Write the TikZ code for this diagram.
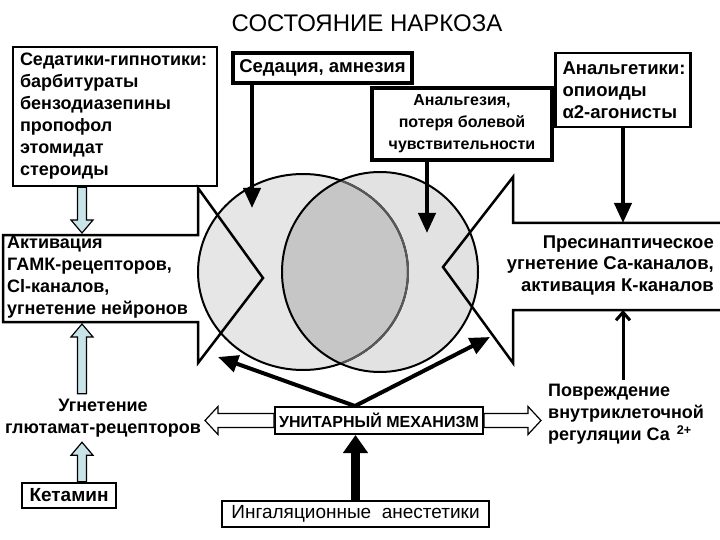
\documentclass[tikz,border=0pt]{standalone}
\usepackage{fontspec}
\setmainfont{Liberation Sans}
\usetikzlibrary{arrows.meta, calc}

\definecolor{paleblue}{RGB}{200,228,232}
\definecolor{leftfill}{RGB}{230,230,230}
\definecolor{rightfill}{RGB}{226,226,226}
\definecolor{overlap}{RGB}{198,198,198}

% hollow block arrow: style, from, to, shaft half width, head half width
\newcommand\fatarrow[5]{%
  \draw [#1] let \p1 = (#2), \p2 = (#3),
    \n1 = {atan2(\y2-\y1,\x2-\x1)}, \n2 = {veclen(\x2-\x1,\y2-\y1)} in
    [shift = {(\p1)}, rotate = \n1]
    (0,-#4) -- ({\n2-13},-#4) -- ({\n2-13},-#5) -- (\n2,0)
    -- ({\n2-13},#5) -- ({\n2-13},#4) -- (0,#4) -- cycle;}

\begin{document}
\begin{tikzpicture}[x = 1pt, y = -1pt,
    bodyfont/.style = {font = \bfseries\fontsize{18}{22}\selectfont},
    txt/.style = {bodyfont, inner sep = 2pt},
    thinbox/.style = {draw, bodyfont, line width = 2.5pt, inner xsep = 7pt},
    thickbox/.style = {draw, bodyfont, line width = 4pt},
    blackarrow/.style = {line width = 4pt, -{Triangle[length = 20pt, width = 17pt]}},
    bluearrow/.style = {fill = paleblue, line width = 1.2pt},
    whitearrow/.style = {fill = white, line width = 1.2pt}]
  \useasboundingbox (0,0) rectangle (720,540);

  % the two circles
  \fill [leftfill] (303,272) ellipse [x radius = 105, y radius = 98];
  \fill [rightfill] (380,272) ellipse [x radius = 98, y radius = 100];
  \begin{scope}
    \clip (303,272) ellipse [x radius = 105, y radius = 98];
    \fill [overlap] (380,272) ellipse [x radius = 98, y radius = 100];
  \end{scope}
  \draw [line width = 2pt] (303,272) ellipse [x radius = 105, y radius = 98];
  \begin{scope}
    \clip (380,272) ellipse [x radius = 98, y radius = 100];
    \draw [line width = 2pt, black!65] (303,272) ellipse [x radius = 105, y radius = 98];
  \end{scope}
  \draw [line width = 2pt] (380,272) ellipse [x radius = 98, y radius = 100];

  % block arrows at both sides
  \coordinate (ltop) at (198,188);
  \coordinate (ltip) at (263,278);
  \coordinate (lbot) at (198,363);
  \coordinate (rtop) at (513,177);
  \coordinate (rtip) at (443,267);
  \coordinate (rbot) at (513,363);
  \draw [line width = 2.5pt, line join = miter]
    (3,235) -- (198,235) -- (ltop) -- (ltip) -- (lbot) -- (198,322) -- (3,322) -- cycle;
  \draw [line width = 2.5pt, line join = miter]
    (725,223) -- (513,223) -- (rtop) -- (rtip) -- (rbot) -- (513,310) -- (725,310);

  \node [font = \fontsize{24}{26}\selectfont] (title) at (367,23) {СОСТОЯНИЕ НАРКОЗА};

  \node [thinbox, minimum width = 204, minimum height = 139, text width = 190, align = left]
    (sedat) at (115,116.5)
    {Седатики-гипнотики:\\барбитураты\\бензодиазепины\\пропофол\\этомидат\\стероиды};
  \node [thickbox, font = \bfseries\fontsize{18.5}{22}\selectfont, minimum width = 179,
    minimum height = 30, inner sep = 0pt] (sedation) at (322.5,68) {Седация, амнезия};
  \node [thickbox, font = \bfseries\fontsize{16}{22}\selectfont, minimum width = 180,
    minimum height = 72, inner sep = 0pt, align = center]
    (analg) at (462,124) {Анальгезия,\\потеря болевой\\чувствительности};
  \node [thinbox, font = \bfseries\fontsize{18.5}{22}\selectfont, minimum width = 135,
    minimum height = 74, text width = 121, align = left]
    (analget) at (623,90) {Анальгетики:\\опиоиды\\α2-агонисты};

  \node [txt, anchor = west, align = left] (gaba) at (5,277)
    {Активация\\ГАМК-рецепторов,\\Cl-каналов,\\угнетение нейронов};
  \node [txt, anchor = east, align = right, font = \bfseries\fontsize{18.5}{21.5}\selectfont]
    (presyn) at (716,265)
    {Пресинаптическое\\угнетение Са-каналов,\\активация К-каналов};
  \node [txt, align = center, inner sep = 5pt] (glut) at (103,418)
    {Угнетение\\глютамат-рецепторов};
  \node [txt, anchor = west, align = left, inner sep = 4pt] (damage) at (544,414)
    {Повреждение\\внутриклеточной\\регуляции Са \textsuperscript{\,2+}};

  \node [thinbox, font = \bfseries\fontsize{19}{22}\selectfont, minimum width = 94,
    minimum height = 25, inner sep = 0pt] (ketam) at (69,495.5) {Кетамин};
  \node [thinbox, font = \bfseries\fontsize{16}{20}\selectfont, line width = 2pt,
    minimum width = 208, minimum height = 27, inner sep = 0pt] (unit) at (379,420.5)
    {УНИТАРНЫЙ МЕХАНИЗМ};
  \node [thinbox, font = \fontsize{19}{22}\selectfont, minimum width = 267,
    minimum height = 26, inner sep = 0pt]
    (inhal) at (355.5,514) {Ингаляционные\ \ анестетики};

  % connectors
  \coordinate (lftx) at (82,0);
  \coordinate (lboxtop) at (82,233);
  \coordinate (lboxbot) at (82,324);
  \coordinate (rboxtop) at (600,223);
  \coordinate (rboxbot) at (600,310);
  \coordinate (uhub) at (355,406);
  \coordinate (lhit) at (218,357);
  \coordinate (rhit) at (490,337);
  \coordinate (uleft) at (205,420.5);
  \coordinate (uright) at (541,420.5);

  \fatarrow{bluearrow}{sedat.south -| lftx}{lboxtop}{4.5}{11}
  \fatarrow{bluearrow}{glut.north -| lftx}{lboxbot}{4.5}{11}
  \fatarrow{bluearrow}{ketam.north -| lftx}{glut.south -| lftx}{4.5}{11}
  \fatarrow{whitearrow}{unit.west}{uleft}{7}{14}
  \fatarrow{whitearrow}{unit.east}{uright}{7}{14}

  \draw [blackarrow] (sedation.south -| 252,0) -- (252,208);
  \draw [blackarrow] (analg.south -| 427,0) -- (427,233);
  \draw [blackarrow] (analget.south) -- (analget.south |- rboxtop);
  \draw [line width = 3pt, -{Straight Barb[length = 8pt, width = 14pt]}]
    (damage.north -| analget.south) -- (analget.south |- rboxbot);
  \draw [blackarrow] (uhub) -- (lhit);
  \draw [blackarrow] (uhub) -- (rhit);
  \draw [line width = 9pt, -{Triangle[length = 18pt, width = 24pt]}]
    (inhal.north) -- (inhal.north |- unit.south);
\end{tikzpicture}
\end{document}
